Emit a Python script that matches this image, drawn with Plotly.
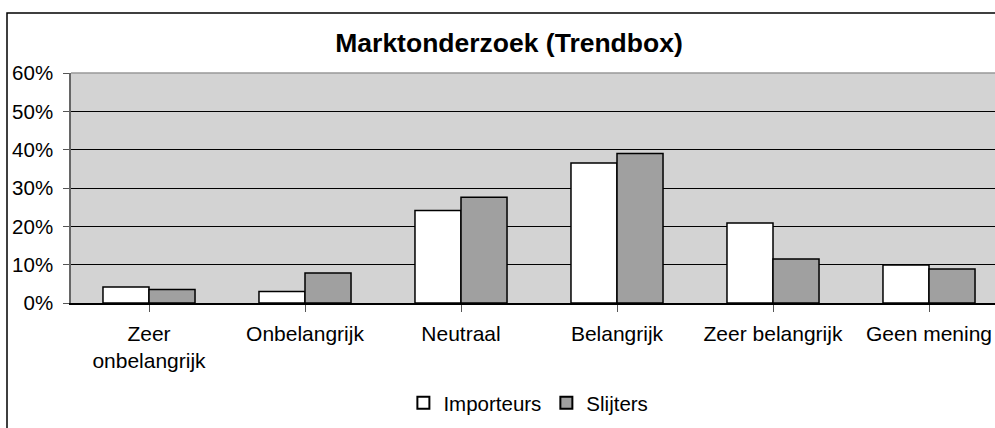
import plotly.graph_objects as go

categories = ["Zeer<br>onbelangrijk", "Onbelangrijk", "Neutraal", "Belangrijk", "Zeer belangrijk", "Geen mening"]
importeurs = [0.042, 0.030, 0.241, 0.365, 0.209, 0.099]
slijters = [0.035, 0.078, 0.276, 0.390, 0.115, 0.089]
y_ticks = [0, 0.1, 0.2, 0.3, 0.4, 0.5, 0.6]
y_ticklabels = ["0%", "10%", "20%", "30%", "40%", "50%", "60%"]

W, H = 995, 428
L, R, T, B = 71, 0, 73, 125
pw = W - L - R
ph = H - T - B
FONT = "Liberation Sans, Arial, sans-serif"

fig = go.Figure()
fig.add_trace(go.Bar(name="Importeurs", x=list(range(6)), y=importeurs,
                     marker=dict(color="white", line=dict(color="black", width=1.5))))
fig.add_trace(go.Bar(name="Slijters", x=list(range(6)), y=slijters,
                     marker=dict(color="#a0a0a0", line=dict(color="black", width=1.5))))

slot = 156.0
x_end = -0.5 + pw / slot

fig.update_layout(
    width=W, height=H,
    margin=dict(l=L, r=R, t=T, b=B, autoexpand=False),
    paper_bgcolor="white",
    plot_bgcolor="#d3d3d3",
    barmode="group", bargap=0.41, bargroupgap=0,
    font=dict(family=FONT, size=20, color="black"),
    title=dict(text="<b>Marktonderzoek (Trendbox)</b>", x=509 / W, xanchor="center",
               xref="container", yref="container", y=1 - 43 / H, yanchor="middle",
               font=dict(family=FONT, size=26.5, color="black")),
    showlegend=True,
    legend=dict(orientation="h", x=0.495, xanchor="center", y=(303 - 403) / ph, yanchor="middle",
                font=dict(family=FONT, size=20.5, color="black"), itemsizing="constant",
                traceorder="normal", itemwidth=30, bgcolor="rgba(0,0,0,0)"),
    xaxis=dict(range=[-0.5, x_end], tickmode="array", tickvals=list(range(6)), ticktext=categories,
               tickson="boundaries", ticks="outside", ticklen=7, tickcolor="#555555",
               showline=True, linecolor="black", linewidth=1.5, showgrid=False,
               tickfont=dict(family=FONT, size=21, color="black"), ticklabelstandoff=4,
               fixedrange=True, zeroline=False),
    yaxis=dict(range=[0, 0.6], tickmode="array", tickvals=y_ticks, ticktext=y_ticklabels,
               ticks="outside", ticklen=6, tickcolor="#555555",
               showline=True, linecolor="#666666", linewidth=1.5,
               showgrid=True, gridcolor="black", gridwidth=1,
               tickfont=dict(family=FONT, size=20.5, color="black"), ticklabelstandoff=6,
               zeroline=False, fixedrange=True),
    shapes=[
        dict(type="line", xref="paper", yref="paper", x0=0, x1=1, y0=1, y1=1,
             line=dict(color="#999999", width=1.5)),
        dict(type="rect", xref="paper", yref="paper",
             x0=(7 - L) / pw, x1=1.05, y0=(303 - H - 20) / ph, y1=(303 - 13) / ph,
             line=dict(color="black", width=1.5), fillcolor="rgba(0,0,0,0)", layer="above"),
    ],
)

fig.write_html("out.html", config={"displayModeBar": False},
               post_script="document.body.style.margin='0';document.body.style.overflow='hidden';")
